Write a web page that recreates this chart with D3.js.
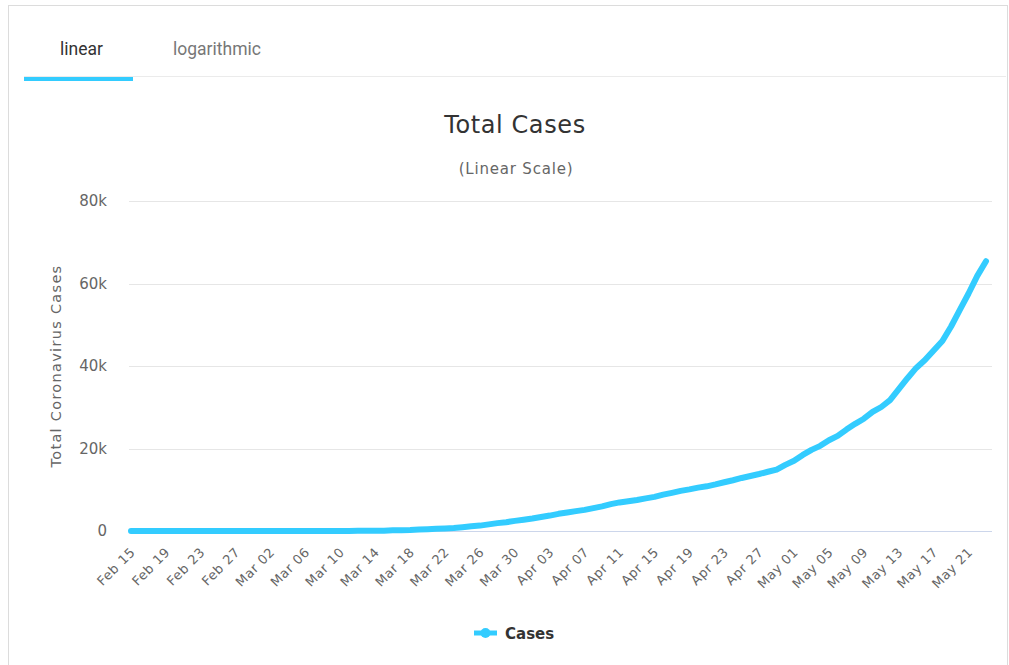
<!DOCTYPE html>
<html>
<head>
<meta charset="utf-8">
<script src="https://cdn.jsdelivr.net/npm/d3@7"></script>
<style>
  body { margin: 0; background: #fff; }
  svg { display: block; }
</style>
</head>
<body>
<div id="chart"></div>
<script>
// Total cases, one value per day from Feb 15 2020
const startDate = new Date(2020, 1, 15);
const cases = [
  0, 0, 0, 0, 0, 0, 0, 0, 0, 0, 0, 0, 0, 0, 0, 0, 0,
  1, 1, 4, 4, 7, 10, 13, 17, 23, 33, 43, 61, 75, 156, 201, 238, 342, 434,
  537, 632, 746, 922, 1142, 1306, 1610, 1909, 2139, 2449, 2738,
  3031, 3404, 3737, 4161, 4471, 4815, 5116, 5546, 5972, 6501, 6927, 7213,
  7525, 7917, 8273, 8807, 9252, 9730, 10088, 10507, 10832, 11296, 11812,
  12306, 12858, 13331, 13813, 14365, 14885, 16023,
  17008, 18435, 19663, 20643, 22016, 23048, 24581, 25972, 27219, 28866,
  30063, 31721, 34381, 37040, 39542, 41428, 43781, 46059, 49579, 53617,
  57581, 61857, 65393
];
const yTicks = [0, 20000, 40000, 60000, 80000];
const tabs = ['linear', 'logarithmic'];

const width = 1009;
const height = 665;
const lineColor = '#33ccff';
const chartFont = '"DejaVu Sans", Verdana, sans-serif';

const dates = cases.map((d, i) => d3.timeDay.offset(startDate, i));
const points = dates.map((d, i) => ({ date: d, value: cases[i] }));

const svg = d3.select('#chart')
  .append('svg')
  .attr('width', width)
  .attr('height', height);

// card frame
svg.append('rect')
  .attr('x', 8.5).attr('y', 5.5)
  .attr('width', width - 10).attr('height', height)
  .attr('fill', '#fff')
  .attr('stroke', '#dcdcdc');

// tabs
svg.append('line')
  .attr('x1', 24).attr('x2', 1006)
  .attr('y1', 76.5).attr('y2', 76.5)
  .attr('stroke', '#ebebeb');

svg.append('rect')
  .attr('x', 24).attr('y', 77)
  .attr('width', 109).attr('height', 4)
  .attr('fill', lineColor);

svg.selectAll('.tab')
  .data(tabs)
  .join('text')
  .attr('class', 'tab')
  .attr('x', (d, i) => i === 0 ? 60 : 173)
  .attr('y', 55)
  .attr('font-family', 'Roboto, sans-serif')
  .attr('font-size', 17.5)
  .attr('fill', (d, i) => i === 0 ? '#333' : '#777')
  .text(d => d);

// titles
svg.append('text')
  .attr('x', 515).attr('y', 133)
  .attr('text-anchor', 'middle')
  .attr('font-family', chartFont)
  .attr('font-size', 24)
  .attr('letter-spacing', 0.6)
  .attr('fill', '#333')
  .text('Total Cases');

svg.append('text')
  .attr('x', 516).attr('y', 174)
  .attr('text-anchor', 'middle')
  .attr('font-family', chartFont)
  .attr('font-size', 15)
  .attr('letter-spacing', 0.8)
  .attr('fill', '#666')
  .text('(Linear Scale)');

// scales
const x = d3.scaleTime()
  .domain([dates[0], dates[dates.length - 1]])
  .range([131, 986]);

const y = d3.scaleLinear()
  .domain([0, 80000])
  .range([531, 201]);

// gridlines
svg.append('g')
  .selectAll('line')
  .data(yTicks.filter(d => d > 0))
  .join('line')
  .attr('x1', 129).attr('x2', 992)
  .attr('y1', d => Math.round(y(d)) + 0.5)
  .attr('y2', d => Math.round(y(d)) + 0.5)
  .attr('stroke', '#e6e6e6');

svg.append('line')
  .attr('x1', 129).attr('x2', 992)
  .attr('y1', y(0) + 0.5).attr('y2', y(0) + 0.5)
  .attr('stroke', '#ccd6eb');

// y axis labels
svg.append('g')
  .selectAll('text')
  .data(yTicks)
  .join('text')
  .attr('x', 107)
  .attr('y', d => y(d) + 5)
  .attr('text-anchor', 'end')
  .attr('font-family', chartFont)
  .attr('font-size', 15)
  .attr('fill', '#666')
  .text(d => d === 0 ? '0' : (d / 1000) + 'k');

svg.append('text')
  .attr('transform', 'translate(61,366) rotate(-90)')
  .attr('text-anchor', 'middle')
  .attr('font-family', chartFont)
  .attr('font-size', 14.5)
  .attr('letter-spacing', 1.3)
  .attr('fill', '#666')
  .text('Total Coronavirus Cases');

// x axis labels every 4 days
const xTicks = dates.filter((d, i) => i % 4 === 0);
const fmt = d3.timeFormat('%b %d');

svg.append('g')
  .selectAll('text')
  .data(xTicks)
  .join('text')
  .attr('transform', d => `translate(${x(d) + 5},${553}) rotate(-45)`)
  .attr('text-anchor', 'end')
  .attr('font-family', chartFont)
  .attr('font-size', 13)
  .attr('letter-spacing', 0.6)
  .attr('fill', '#666')
  .text(d => fmt(d));

// series
const line = d3.line()
  .x(d => x(d.date))
  .y(d => y(d.value));

svg.append('path')
  .datum(points)
  .attr('d', line)
  .attr('fill', 'none')
  .attr('stroke', lineColor)
  .attr('stroke-width', 6)
  .attr('stroke-linejoin', 'round')
  .attr('stroke-linecap', 'round');

// legend
const legend = svg.append('g').attr('transform', 'translate(474,633)');
legend.append('line')
  .attr('x1', 0).attr('x2', 23)
  .attr('y1', 0).attr('y2', 0)
  .attr('stroke', lineColor)
  .attr('stroke-width', 5);
legend.append('circle')
  .attr('cx', 11.5).attr('cy', 0).attr('r', 5)
  .attr('fill', lineColor);
legend.append('text')
  .attr('x', 31).attr('y', 5.5)
  .attr('font-family', chartFont)
  .attr('font-size', 15)
  .attr('font-weight', 'bold')
  .attr('fill', '#333')
  .text('Cases');
</script>
</body>
</html>
